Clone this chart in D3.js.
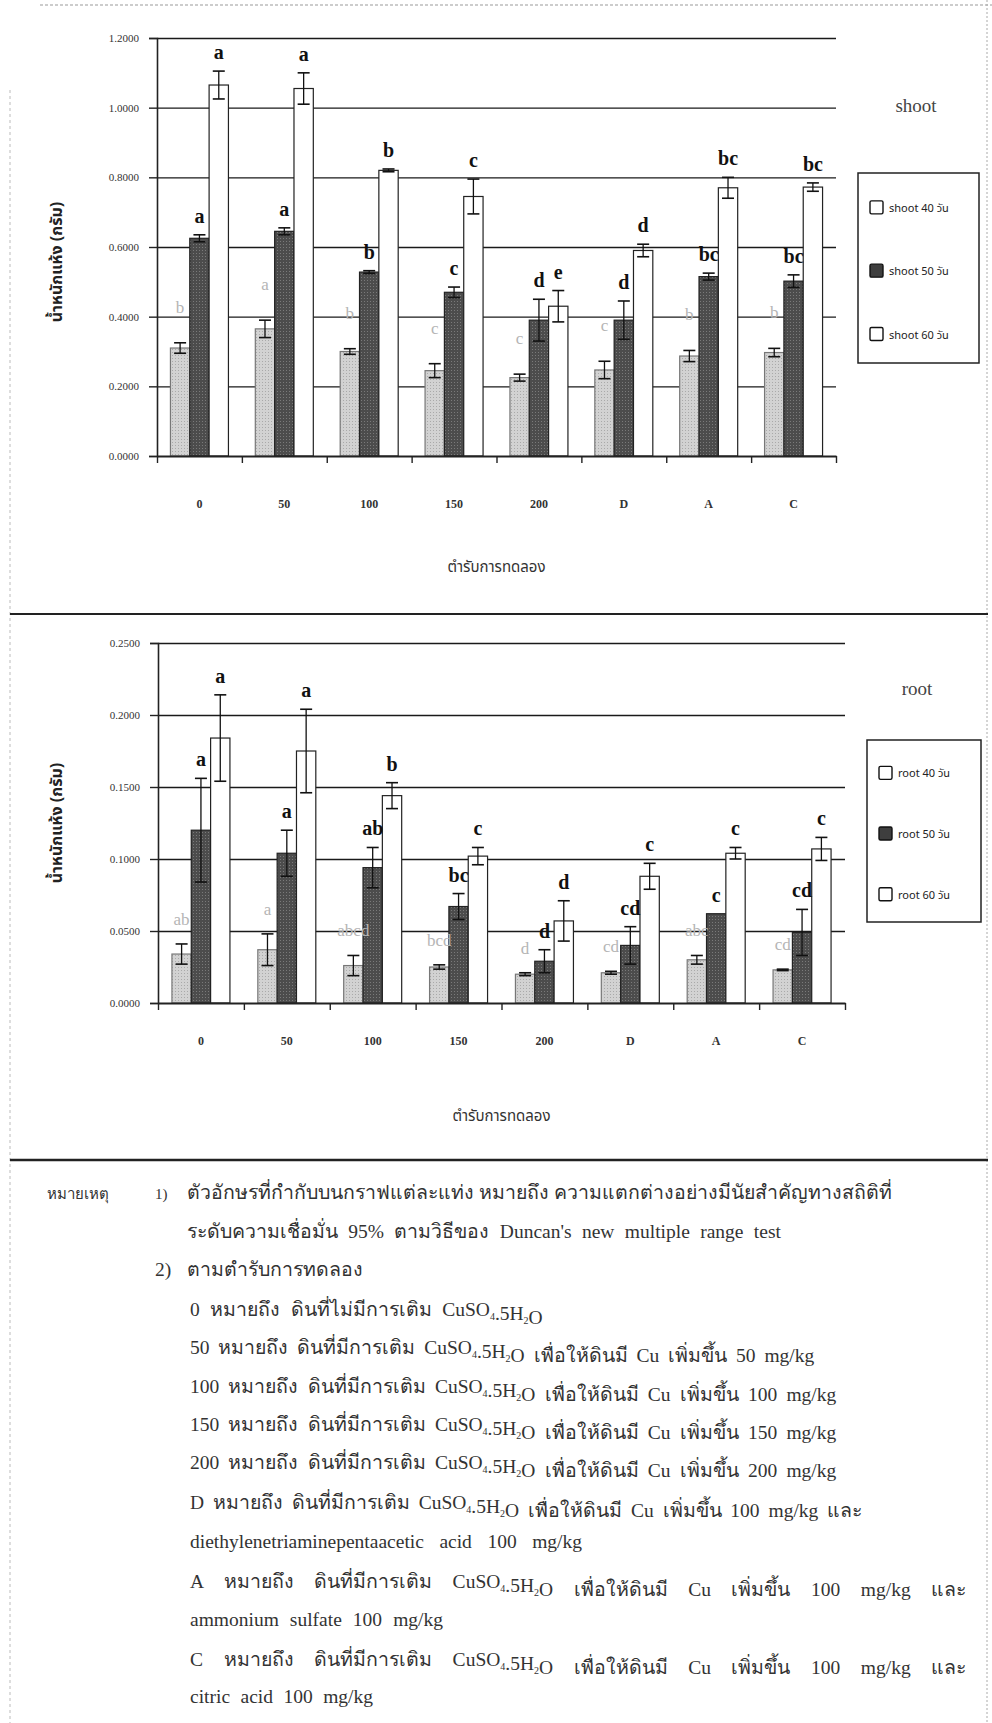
<!DOCTYPE html>
<html>
<head>
<meta charset="utf-8">
<title>shoot / root dry weight</title>
<script src="https://d3js.org/d3.v7.min.js"></script>
<style>
body { margin: 0; background: #fff; }
svg text { font-family: "Liberation Serif", "DejaVu Serif", serif; }
.thai { font-family: "Noto Sans Thai", "Noto Serif Thai", "Loma", "Garuda", "Norasi", "Tlwg Typo", sans-serif; }
</style>
</head>
<body>
<svg id="page" width="992" height="1723"></svg>
<script>
// treatments on the x axis
var treatments = ["0", "50", "100", "150", "200", "D", "A", "C"];

// shoot dry weight (g)
var shoot40 = [0.310, 0.365, 0.300, 0.245, 0.225, 0.247, 0.287, 0.297];
var shoot40Err = [0.015, 0.025, 0.008, 0.020, 0.010, 0.025, 0.016, 0.012];
var shoot40Sig = ["b", "a", "b", "c", "c", "c", "b", "b"];
var shoot50 = [0.625, 0.645, 0.528, 0.470, 0.390, 0.390, 0.515, 0.502];
var shoot50Err = [0.010, 0.010, 0.004, 0.015, 0.060, 0.055, 0.010, 0.018];
var shoot50Sig = ["a", "a", "b", "c", "d", "d", "bc", "bc"];
var shoot60 = [1.065, 1.055, 0.820, 0.745, 0.430, 0.590, 0.770, 0.772];
var shoot60Err = [0.040, 0.045, 0.004, 0.050, 0.045, 0.018, 0.030, 0.012];
var shoot60Sig = ["a", "a", "b", "c", "e", "d", "bc", "bc"];
var shootTicks = [0, 0.2, 0.4, 0.6, 0.8, 1.0, 1.2];

// root dry weight (g)
var root40 = [0.034, 0.037, 0.026, 0.025, 0.020, 0.021, 0.030, 0.023];
var root40Err = [0.007, 0.011, 0.007, 0.0015, 0.001, 0.001, 0.003, 0.0005];
var root40Sig = ["ab", "a", "abcd", "bcd", "d", "cd", "abc", "cd"];
var root50 = [0.120, 0.104, 0.094, 0.067, 0.029, 0.040, 0.062, 0.049];
var root50Err = [0.036, 0.016, 0.014, 0.009, 0.008, 0.013, 0, 0.016];
var root50Sig = ["a", "a", "ab", "bc", "d", "cd", "c", "cd"];
var root60 = [0.184, 0.175, 0.144, 0.102, 0.057, 0.088, 0.104, 0.107];
var root60Err = [0.030, 0.029, 0.009, 0.006, 0.014, 0.009, 0.004, 0.008];
var root60Sig = ["a", "a", "b", "c", "d", "c", "c", "c"];
var rootTicks = [0, 0.05, 0.10, 0.15, 0.20, 0.25];

var days = ["40", "50", "60"];

var svg = d3.select("#page");

// bar textures (scanned halftone look)
var defs = svg.append("defs");
var pLight = defs.append("pattern").attr("id", "texLight")
  .attr("width", 3).attr("height", 3).attr("patternUnits", "userSpaceOnUse");
pLight.append("rect").attr("width", 3).attr("height", 3).attr("fill", "#d2d2d2");
pLight.append("rect").attr("x", 1).attr("y", 1).attr("width", 1).attr("height", 1).attr("fill", "#a9a9a9");
var pDark = defs.append("pattern").attr("id", "texDark")
  .attr("width", 3).attr("height", 3).attr("patternUnits", "userSpaceOnUse");
pDark.append("rect").attr("width", 3).attr("height", 3).attr("fill", "#4c4c4c");
pDark.append("rect").attr("x", 1).attr("y", 1).attr("width", 1).attr("height", 1).attr("fill", "#7a7a7a");

var fills = {"40": "url(#texLight)", "50": "url(#texDark)", "60": "#fff"};
var strokes = {"40": "#777", "50": "#222", "60": "#222"};
var legendFills = {"40": "#fff", "50": "#3e3e3e", "60": "#fff"};

// page frame
svg.append("line").attr("x1", 40).attr("x2", 992).attr("y1", 5).attr("y2", 5)
  .attr("stroke", "#999").attr("stroke-dasharray", "3,2");
svg.append("line").attr("x1", 987).attr("x2", 987).attr("y1", 0).attr("y2", 1723)
  .attr("stroke", "#aaa").attr("stroke-dasharray", "2,2");
svg.append("line").attr("x1", 10).attr("x2", 10).attr("y1", 90).attr("y2", 1723)
  .attr("stroke", "#bbb").attr("stroke-dasharray", "3,3");
svg.append("line").attr("x1", 10).attr("x2", 988).attr("y1", 614).attr("y2", 614)
  .attr("stroke", "#222").attr("stroke-width", 2);
svg.append("line").attr("x1", 10).attr("x2", 988).attr("y1", 1160).attr("y2", 1160)
  .attr("stroke", "#222").attr("stroke-width", 2.5);

function drawPanel(o) {
  var x = d3.scaleBand().domain(treatments).range([o.left, o.right]);
  var xs = d3.scaleBand().domain(days).range([-29, 29]);
  var y = d3.scaleLinear().domain([0, o.max]).range([o.bottom, o.top]);
  var g = svg.append("g");

  // horizontal gridlines
  g.append("g").attr("transform", "translate(" + o.left + ",0)")
    .call(d3.axisLeft(y).tickValues(o.ticks.slice(1)).tickSize(-(o.right - o.left)).tickFormat(""))
    .call(function (a) { a.select(".domain").remove(); })
    .selectAll("line").attr("stroke", "#1a1a1a").attr("stroke-width", 1.4);

  // y axis with labels
  var ya = g.append("g").attr("transform", "translate(" + o.left + ",0)")
    .call(d3.axisLeft(y).tickValues(o.ticks).tickSize(8).tickPadding(10).tickFormat(d3.format(".4f")));
  ya.select(".domain").attr("stroke", "#222").attr("stroke-width", 1.6);
  ya.selectAll("line").attr("stroke", "#222").attr("stroke-width", 1.4);
  ya.selectAll("text").attr("font-size", 11).attr("fill", "#333")
    .style("font-family", "Liberation Serif, serif");

  // bars
  o.series.forEach(function (s) {
    var grp = g.append("g");
    grp.selectAll("rect").data(treatments).enter().append("rect")
      .attr("x", function (t) { return x(t) + x.bandwidth() / 2 + xs(s.key); })
      .attr("width", xs.bandwidth())
      .attr("y", function (t, i) { return y(s.mean[i]); })
      .attr("height", function (t, i) { return y(0) - y(s.mean[i]); })
      .attr("fill", fills[s.key]).attr("stroke", strokes[s.key]).attr("stroke-width", 1.2);
  });

  // error bars and letters
  o.series.forEach(function (s) {
    treatments.forEach(function (t, i) {
      var cx = x(t) + x.bandwidth() / 2 + xs(s.key) + xs.bandwidth() / 2;
      var hi = y(s.mean[i] + s.err[i]), lo = y(s.mean[i] - s.err[i]);
      if (s.err[i] > 0) {
        g.append("line").attr("x1", cx).attr("x2", cx).attr("y1", hi).attr("y2", lo)
          .attr("stroke", "#111").attr("stroke-width", 1.3);
        [hi, lo].forEach(function (yy) {
          g.append("line").attr("x1", cx - 6).attr("x2", cx + 6).attr("y1", yy).attr("y2", yy)
            .attr("stroke", "#111").attr("stroke-width", 1.6);
        });
      }
      var faint = s.key === "40";
      g.append("text").attr("x", cx).attr("y", hi - (faint ? o.faintGap : 12))
        .attr("text-anchor", "middle")
        .attr("font-size", faint ? 17 : 20)
        .attr("font-weight", faint ? "normal" : "bold")
        .attr("fill", faint ? "#b5b5b5" : "#111")
        .text(s.sig[i]);
    });
  });

  // x axis: line + ticks at category borders
  var xi = d3.scaleLinear().domain([0, treatments.length]).range([o.left, o.right]);
  var xa = g.append("g").attr("transform", "translate(0," + o.bottom + ")")
    .call(d3.axisBottom(xi).tickValues(d3.range(treatments.length + 1)).tickSize(7).tickSizeOuter(0).tickFormat(""));
  xa.select(".domain").attr("stroke", "#222").attr("stroke-width", 1.8);
  xa.selectAll("line").attr("stroke", "#222").attr("stroke-width", 1.4);

  var xl = g.append("g").attr("transform", "translate(0," + o.bottom + ")")
    .call(d3.axisBottom(x).tickSize(0).tickPadding(o.labelGap));
  xl.select(".domain").remove();
  xl.selectAll("text").attr("font-size", 12).attr("font-weight", "bold").attr("fill", "#333")
    .style("font-family", "Liberation Serif, serif");

  // axis titles
  g.append("text").attr("class", "thai")
    .attr("x", (o.left + o.right) / 2).attr("y", o.bottom + o.titleGap)
    .attr("text-anchor", "middle").attr("font-size", 15).attr("fill", "#333")
    .text("ตำรับการทดลอง");
  g.append("text").attr("class", "thai")
    .attr("transform", "translate(" + o.yTitleX + "," + o.yTitleY + ") rotate(-90)")
    .attr("text-anchor", "middle").attr("font-size", 16).attr("font-weight", "bold").attr("fill", "#222")
    .text("น้ำหนักแห้ง (กรัม)");

  // panel name
  g.append("text").attr("x", o.nameX).attr("y", o.nameY).attr("text-anchor", "middle")
    .attr("font-size", 19).attr("fill", "#444").text(o.name);

  // legend
  var lg = g.append("g").attr("transform", "translate(" + o.legend[0] + "," + o.legend[1] + ")");
  lg.append("rect").attr("width", o.legend[2]).attr("height", o.legend[3])
    .attr("fill", "#fff").attr("stroke", "#222").attr("stroke-width", 1.5);
  days.forEach(function (d, k) {
    var yy = o.legend[3] * (k + 0.55) / 3;
    lg.append("rect").attr("x", 12).attr("y", yy - 7).attr("width", 13).attr("height", 13)
      .attr("rx", 1.5).attr("fill", legendFills[d]).attr("stroke", "#111").attr("stroke-width", 1.4);
    lg.append("text").attr("class", "thai").attr("x", 31).attr("y", yy + 4)
      .attr("font-size", 11).attr("fill", "#222").text(o.name + " " + d + " วัน");
  });
}

drawPanel({
  name: "shoot", left: 157, right: 836, top: 38, bottom: 456, max: 1.2, ticks: shootTicks,
  series: [
    {key: "40", mean: shoot40, err: shoot40Err, sig: shoot40Sig},
    {key: "50", mean: shoot50, err: shoot50Err, sig: shoot50Sig},
    {key: "60", mean: shoot60, err: shoot60Err, sig: shoot60Sig}
  ],
  faintGap: 30, labelGap: 43, titleGap: 116, yTitleX: 62, yTitleY: 262,
  nameX: 916, nameY: 112, legend: [858, 173, 121, 190]
});

drawPanel({
  name: "root", left: 158, right: 845, top: 643, bottom: 1003, max: 0.25, ticks: rootTicks,
  series: [
    {key: "40", mean: root40, err: root40Err, sig: root40Sig},
    {key: "50", mean: root50, err: root50Err, sig: root50Sig},
    {key: "60", mean: root60, err: root60Err, sig: root60Sig}
  ],
  faintGap: 19, labelGap: 33, titleGap: 118, yTitleX: 62, yTitleY: 823,
  nameX: 917, nameY: 695, legend: [867, 740, 114, 182]
});

// notes under the charts ("_n" marks a subscript digit)
var noteLines = [
  "ตัวอักษรที่กำกับบนกราฟแต่ละแท่ง หมายถึง ความแตกต่างอย่างมีนัยสำคัญทางสถิติที่",
  "ระดับความเชื่อมั่น 95% ตามวิธีของ Duncan's new multiple range test",
  "2) ตามตำรับการทดลอง",
  "0 หมายถึง ดินที่ไม่มีการเติม CuSO_4.5H_2O",
  "50 หมายถึง ดินที่มีการเติม CuSO_4.5H_2O เพื่อให้ดินมี Cu เพิ่มขึ้น 50 mg/kg",
  "100 หมายถึง ดินที่มีการเติม CuSO_4.5H_2O เพื่อให้ดินมี Cu เพิ่มขึ้น 100 mg/kg",
  "150 หมายถึง ดินที่มีการเติม CuSO_4.5H_2O เพื่อให้ดินมี Cu เพิ่มขึ้น 150 mg/kg",
  "200 หมายถึง ดินที่มีการเติม CuSO_4.5H_2O เพื่อให้ดินมี Cu เพิ่มขึ้น 200 mg/kg",
  "D หมายถึง ดินที่มีการเติม CuSO_4.5H_2O เพื่อให้ดินมี Cu เพิ่มขึ้น 100 mg/kg และ",
  "diethylenetriaminepentaacetic acid 100 mg/kg",
  "A หมายถึง ดินที่มีการเติม CuSO_4.5H_2O เพื่อให้ดินมี Cu เพิ่มขึ้น 100 mg/kg และ",
  "ammonium sulfate 100 mg/kg",
  "C หมายถึง ดินที่มีการเติม CuSO_4.5H_2O เพื่อให้ดินมี Cu เพิ่มขึ้น 100 mg/kg และ",
  "citric acid 100 mg/kg"
];
var noteX = [187, 187, 155, 190, 190, 190, 190, 190, 190, 190, 190, 190, 190, 190];
var noteY = [1199, 1238, 1276, 1316, 1354, 1393, 1431, 1469, 1509, 1548, 1588, 1626, 1666, 1703];
var noteW = [778, 591, 206, 354, 623, 645, 645, 645, 671, 392, 775, 253, 775, 183];

var notes = svg.append("g").attr("class", "thai").attr("fill", "#333");
notes.append("text").attr("x", 47).attr("y", 1199).attr("font-size", 15).text("หมายเหตุ");
notes.append("text").attr("x", 155).attr("y", 1199).attr("font-size", 15).text("1)");
noteLines.forEach(function (line, i) {
  var t = notes.append("text").attr("x", noteX[i]).attr("y", noteY[i]).attr("font-size", 15);
  line.split(/_(\d)/).forEach(function (part, k) {
    if (k % 2 === 1) {
      t.append("tspan").attr("dy", 4).attr("font-size", 10).text(part);
      t.append("tspan").attr("dy", -4).text("");
    } else {
      t.append("tspan").text(part);
    }
  });
  // fit each line to the width it has in the scan; the spread-out lines get extra word spacing
  var w = t.node().getComputedTextLength();
  var f = Math.min(15 * noteW[i] / w, 19.5);
  t.attr("font-size", f);
  var rest = noteW[i] - w * f / 15;
  var gaps = line.split(" ").length - 1;
  if (rest > 4 && gaps > 0 && rest / gaps < 16) t.attr("word-spacing", rest / gaps);
});
</script>
</body>
</html>
